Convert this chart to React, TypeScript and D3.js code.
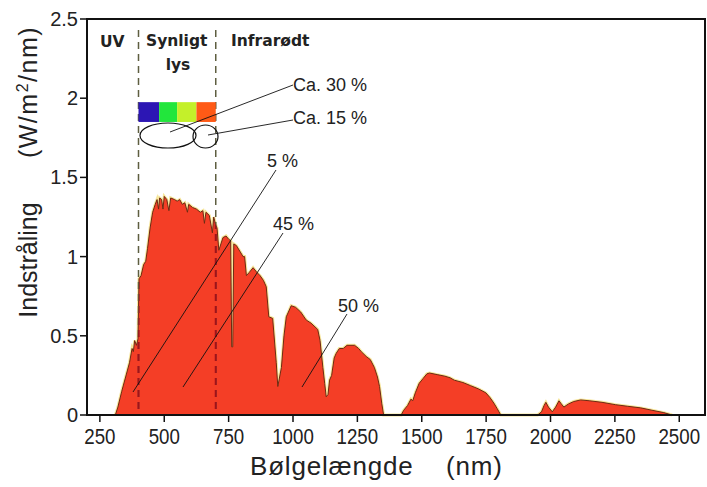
import React from "react";
import * as d3 from "d3";

// Solar spectrum at ground level (wavelength nm, irradiance W/m2/nm)
const wavelengths = [
  310, 320, 335, 350, 365, 375, 380, 385, 392, 398, 402, 410, 420, 428, 435, 445, 455, 465, 472, 478,
  482, 490, 495, 500, 510, 518, 525, 540, 550, 560, 570, 580, 590, 595, 610, 625, 640, 650, 656, 662,
  675, 687, 692, 700, 705, 712, 720, 728, 740, 750, 758, 762, 766, 770, 780, 795, 806, 812, 819, 830,
  845, 860, 872, 885, 896, 906, 921, 935, 941, 948, 955, 965, 974, 993, 1010, 1030, 1051, 1070, 1096, 1105,
  1116, 1123, 1129, 1136, 1142, 1150, 1160, 1168, 1180, 1195, 1210, 1239, 1255, 1265, 1284, 1300, 1316, 1328, 1336, 1345,
  1352, 1420, 1430, 1445, 1458, 1465, 1475, 1490, 1505, 1520, 1530, 1560, 1590, 1610, 1626, 1660, 1690, 1720, 1749, 1765,
  1780, 1793, 1807, 1950, 1965, 1975, 1982, 1992, 2007, 2020, 2033, 2042, 2052, 2070, 2090, 2117, 2150, 2200, 2253, 2300,
  2350, 2394, 2440, 2472,
];
const irradiance = [
  0, 0.05, 0.15, 0.24, 0.33, 0.42, 0.4, 0.47, 0.44, 0.48, 0.86, 0.88, 0.95, 0.97, 1.05, 1.18, 1.28, 1.33, 1.36, 1.3,
  1.37, 1.36, 1.3, 1.38, 1.36, 1.29, 1.37, 1.36, 1.35, 1.36, 1.33, 1.34, 1.28, 1.33, 1.31, 1.3, 1.28, 1.29, 1.21, 1.28,
  1.26, 1.15, 1.25, 1.2, 1.18, 1.04, 1.08, 1.12, 1.13, 1.11, 1.1, 0.43, 0.43, 1.08, 1.07, 1.03, 1.0, 1.0, 0.88, 0.9,
  0.93, 0.9, 0.88, 0.85, 0.81, 0.62, 0.61, 0.33, 0.18, 0.24, 0.3, 0.5, 0.62, 0.69, 0.68, 0.65, 0.6, 0.58, 0.54, 0.47,
  0.3, 0.2, 0.115, 0.13, 0.22, 0.25, 0.36, 0.39, 0.42, 0.42, 0.44, 0.44, 0.42, 0.4, 0.37, 0.35, 0.3, 0.24, 0.18, 0.07,
  0, 0, 0.03, 0.06, 0.1, 0.09, 0.14, 0.2, 0.23, 0.26, 0.265, 0.255, 0.245, 0.235, 0.22, 0.205, 0.185, 0.165, 0.14, 0.11,
  0.075, 0.04, 0, 0, 0.02, 0.06, 0.08, 0.05, 0.02, 0.05, 0.09, 0.07, 0.05, 0.07, 0.085, 0.095, 0.09, 0.08, 0.065, 0.055,
  0.045, 0.03, 0.015, 0,
];

const xTicks = [250, 500, 750, 1000, 1250, 1500, 1750, 2000, 2250, 2500];
const yTicks = [0, 0.5, 1, 1.5, 2, 2.5];
const yTickLabels = ["0", "0.5", "1", "1.5", "2", "2.5"];
const regionBounds = [400, 700];
const colorBandEdges = [400, 480, 550, 625, 700];
const colorBandColors = ["#2c16b4", "#22e63c", "#c4f02a", "#ff5a16"];

export default function App() {
  const W = 707;
  const H = 487;
  const x = d3.scaleLinear().domain([200, 2600]).range([87, 705]);
  const y = d3.scaleLinear().domain([0, 2.5]).range([415, 19]);
  const pts: [number, number][] = wavelengths.map((w, i) => [w, irradiance[i]]);
  const area = d3
    .area<[number, number]>()
    .x((d) => x(d[0]))
    .y0(y(0))
    .y1((d) => y(d[1]))(pts) as string;
  const line = d3
    .line<[number, number]>()
    .x((d) => x(d[0]))
    .y((d) => y(d[1]))(pts) as string;

  const sans = "'Liberation Sans', Arial, sans-serif";
  const bold = "'DejaVu Sans', Verdana, sans-serif";

  return (
    <svg
      width={W}
      height={H}
      style={{ position: "absolute", left: 0, top: 0, background: "#fff" }}
    >
      <defs>
        <clipPath id="areaClip">
          <path d={area} />
        </clipPath>
      </defs>
      {/* spectrum */}
      <path d={line} fill="none" stroke="#f2dc70" strokeWidth={3} opacity={0.7} />
      <path d={area} fill="#f43e26" />
      <path d={line} fill="none" stroke="#6e2a12" strokeWidth={1} />

      {/* dashed boundaries */}
      {regionBounds.map((b) => (
        <g key={b}>
          <line
            x1={x(b)}
            x2={x(b)}
            y1={y(2.43)}
            y2={y(0)}
            stroke="#5e5e40"
            strokeWidth={1.5}
            strokeDasharray="7,5"
          />
          <line
            x1={x(b)}
            x2={x(b)}
            y1={y(2.43)}
            y2={y(0)}
            stroke="#a0121a"
            strokeWidth={2}
            strokeDasharray="7,5"
            clipPath="url(#areaClip)"
          />
        </g>
      ))}

      {/* colour bar */}
      {colorBandColors.map((c, i) => (
        <rect
          key={c}
          x={x(colorBandEdges[i])}
          y={y(1.975)}
          width={x(colorBandEdges[i + 1]) - x(colorBandEdges[i])}
          height={y(1.85) - y(1.975)}
          fill={c}
        />
      ))}
      {/* ellipses */}
      <ellipse cx={168} cy={135.5} rx={28} ry={12.5} fill="none" stroke="#111" strokeWidth={1.2} />
      <ellipse cx={205.5} cy={136.5} rx={12.5} ry={11.5} fill="none" stroke="#111" strokeWidth={1.2} />

      {/* leader lines */}
      <g stroke="#111" strokeWidth={0.9} fill="none">
        <line x1={293} y1={85} x2={170} y2={132} />
        <line x1={293} y1={120} x2={208} y2={135} />
        <line x1={276} y1={170} x2={133} y2={392} />
        <line x1={283} y1={233} x2={183} y2={387} />
        <line x1={347} y1={314} x2={302} y2={387} />
      </g>

      {/* annotations */}
      <g fontFamily={sans} fontSize={18} fill="#222">
        <text x={293} y={91}>Ca. 30 %</text>
        <text x={293} y={124}>Ca. 15 %</text>
        <text x={267} y={167}>5 %</text>
        <text x={273} y={230}>45 %</text>
        <text x={338} y={312}>50 %</text>
      </g>
      <g fontFamily={bold} fontWeight="bold" fontSize={15.5} fill="#222">
        <text x={100} y={47}>UV</text>
        <text x={146} y={46}>Synligt</text>
        <text x={178} y={70} textAnchor="middle">lys</text>
        <text x={231} y={46}>Infrarødt</text>
      </g>

      {/* frame */}
      <rect x={87} y={19} width={705 - 87} height={415 - 19} fill="none" stroke="#111" strokeWidth={2} />

      {/* y axis ticks */}
      {yTicks.map((t, i) => (
        <g key={t}>
          <line x1={80} x2={87} y1={y(t)} y2={y(t)} stroke="#111" strokeWidth={1.5} />
          <text
            x={78}
            y={y(t) + 7}
            textAnchor="end"
            fontFamily={sans}
            fontSize={20}
            fill="#222"
          >
            {yTickLabels[i]}
          </text>
        </g>
      ))}
      {/* x axis ticks */}
      {xTicks.map((t) => (
        <g key={t}>
          <line x1={x(t)} x2={x(t)} y1={415} y2={422} stroke="#111" strokeWidth={1.5} />
          <text
            transform={`translate(${x(t)},444) scale(0.85,1)`}
            textAnchor="middle"
            fontFamily={sans}
            fontSize={22}
            fill="#222"
          >
            {t}
          </text>
        </g>
      ))}

      {/* axis titles */}
      <text x={250} y={475} fontFamily={sans} fontSize={26} letterSpacing={0.8} fill="#222">
        Bølgelængde
      </text>
      <text x={446} y={475} fontFamily={sans} fontSize={26} letterSpacing={0.8} fill="#222">
        (nm)
      </text>
      <text
        transform="translate(37,260) rotate(-90)"
        textAnchor="middle"
        fontFamily={sans}
        fontSize={25}
        fill="#222"
      >
        Indstråling
      </text>
      <text
        transform="translate(37,92) rotate(-90)"
        textAnchor="middle"
        fontFamily={sans}
        fontSize={25}
        letterSpacing={1.5}
        fill="#222"
      >
        (W/m<tspan fontSize={16} dy={-9}>2</tspan>
        <tspan dy={9}>/nm)</tspan>
      </text>
    </svg>
  );
}
